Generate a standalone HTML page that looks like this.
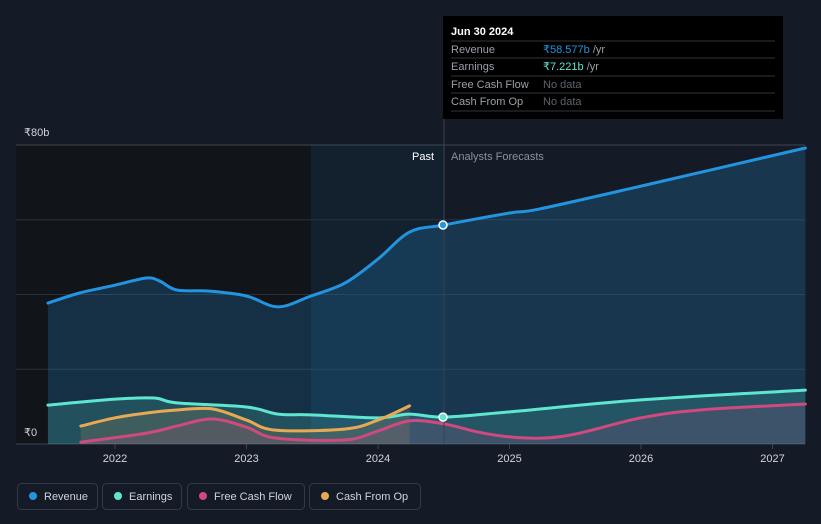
<!DOCTYPE html>
<html><head><meta charset="utf-8"><style>
body{margin:0;background:#151b26;font-family:"Liberation Sans",sans-serif;}
svg{display:block}
</style></head><body>
<svg id="c" width="821" height="524">
<rect x="0" y="0" width="821" height="524" fill="#151b26"/>
<rect x="16" y="145" width="428" height="299" fill="#111419"/>
<rect x="311" y="145" width="133" height="299" fill="#13202e"/>
<g id="grid"></g>
<g id="areas"></g>
<g id="lines"></g>
<line x1="444" y1="16" x2="444" y2="444" stroke="#3a4350" stroke-width="1"/>
<text x="434" y="160" fill="#fff" font-size="11" text-anchor="end">Past</text>
<text x="451" y="160" fill="#8a919c" font-size="11">Analysts Forecasts</text>
<text x="24" y="136" fill="#d0d4da" font-size="11">₹80b</text>
<text x="24" y="436" fill="#d0d4da" font-size="11">₹0</text>
<g id="xt"></g>
<g id="dots"></g>
<g>
<rect x="443" y="16" width="340" height="103" fill="#000"/>
<text x="451" y="35" fill="#fff" font-size="11" font-weight="bold">Jun 30 2024</text>
<line x1="451" y1="41" x2="775" y2="41" stroke="#333"/>
<text x="451" y="53" fill="#9aa0a8" font-size="11">Revenue</text>
<text x="543" y="53" font-size="11"><tspan fill="#2394df">₹58.577b</tspan><tspan fill="#9aa0a8"> /yr</tspan></text>
<line x1="451" y1="58" x2="775" y2="58" stroke="#333"/>
<text x="451" y="70" fill="#9aa0a8" font-size="11">Earnings</text>
<text x="543" y="70" font-size="11"><tspan fill="#5ee6d0">₹7.221b</tspan><tspan fill="#9aa0a8"> /yr</tspan></text>
<line x1="451" y1="76" x2="775" y2="76" stroke="#333"/>
<text x="451" y="88" fill="#9aa0a8" font-size="11">Free Cash Flow</text>
<text x="543" y="88" fill="#5d636b" font-size="11">No data</text>
<line x1="451" y1="93" x2="775" y2="93" stroke="#333"/>
<text x="451" y="105" fill="#9aa0a8" font-size="11">Cash From Op</text>
<text x="543" y="105" fill="#5d636b" font-size="11">No data</text>
<line x1="451" y1="111" x2="775" y2="111" stroke="#333"/>
</g>
<g id="legend"></g>
</svg>
<script>
const yTicks=[0,20,40,60,80];
const xTickLabels=["2022","2023","2024","2025","2026","2027"];
const xTickYears=[2022,2023,2024,2025,2026,2027];
const revT=[2021.49,2021.73,2022.0,2022.24,2022.34,2022.47,2022.72,2023.0,2023.24,2023.49,2023.75,2024.0,2024.24,2024.5,2025.0,2025.23,2026.0,2027.25];
const revV=[37.7,40.4,42.5,44.4,43.6,41.2,40.9,39.6,36.7,39.6,43.1,49.5,56.7,58.6,61.8,62.9,69,79.2];
const earnT=[2021.49,2022.0,2022.3,2022.47,2023.0,2023.24,2023.49,2024.0,2024.24,2024.5,2025.0,2026.0,2027.25];
const earnV=[10.4,12.0,12.3,11.0,9.9,8.0,7.8,7.0,8.0,7.2,8.6,11.8,14.4];
const cfoT=[2021.74,2022.0,2022.24,2022.47,2022.74,2023.0,2023.22,2023.75,2024.0,2024.24];
const cfoV=[4.8,7.0,8.3,9.1,9.4,6.4,3.7,4.0,6.4,10.2];
const fcfT=[2021.74,2022.24,2022.47,2022.74,2023.0,2023.22,2023.75,2024.0,2024.24,2024.5,2024.76,2025.0,2025.27,2025.53,2026.0,2026.45,2027.25];
const fcfV=[0.5,2.9,4.8,6.7,4.5,1.6,1.1,3.5,6.2,5.4,3.2,1.9,1.6,2.9,7.0,9.1,10.7];
const X=t=>115+(t-2022)*131.5;
const Y=v=>444-v*299/80;
const NS="http://www.w3.org/2000/svg";
function mk(tag,attrs,parent){const e=document.createElementNS(NS,tag);for(const k in attrs)e.setAttribute(k,attrs[k]);parent.appendChild(e);return e;}
const grid=document.getElementById('grid');
yTicks.forEach(v=>{const l=mk('line',{x1:16,x2:805,y1:Y(v),y2:Y(v),stroke:v===0||v===80?'#3d4552':'#2a313c'},grid);

});
const xt=document.getElementById('xt');
xTickYears.forEach((t,i)=>{const l=mk('line',{x1:X(t),x2:X(t),y1:444,y2:449,stroke:'#3d4552'},xt);


const tx=mk('text',{x:X(t),y:462,fill:'#d0d4da','font-size':11,'text-anchor':'middle'},xt);tx.textContent=xTickLabels[i];

});
function path(ts,vs){const p=ts.map((t,i)=>[X(t),Y(vs[i])]);let d=`M${p[0][0]},${p[0][1]}`;
for(let i=0;i<p.length-1;i++){const p0=p[i-1]||p[i],p1=p[i],p2=p[i+1],p3=p[i+2]||p2;
const c1=[p1[0]+(p2[0]-p0[0])/6,p1[1]+(p2[1]-p0[1])/6],c2=[p2[0]-(p3[0]-p1[0])/6,p2[1]-(p3[1]-p1[1])/6];
d+=` C${c1[0]},${c1[1]} ${c2[0]},${c2[1]} ${p2[0]},${p2[1]}`;}return [d,p];}
const series=[[revT,revV,'#2394df','rgba(35,148,223,0.22)','revenue'],[earnT,earnV,'#5ee6d0','rgba(94,230,208,0.18)','earnings'],[cfoT,cfoV,'#e8a954','rgba(232,169,84,0.15)','cash-from-op'],[fcfT,fcfV,'#d0497f','rgba(208,73,127,0.15)','free-cash-flow']];
const A=document.getElementById('areas'),L=document.getElementById('lines');
series.forEach(s=>{const [d,p]=path(s[0],s[1]);
const a=mk('path',{d:d+` L${p[p.length-1][0]},444 L${p[0][0]},444 Z`,fill:s[3]},A);


const l=mk('path',{d:d,fill:'none',stroke:s[2],'stroke-width':3,'stroke-linecap':'round'},L);

});
const D=document.getElementById('dots');
[[revV[13],'#2394df'],[earnV[9],'#5ee6d0']].forEach((v,i)=>{const c=mk('circle',{cx:443,cy:Y(v[0]),r:4,fill:v[1],stroke:'#fff','stroke-width':1.5},D);

});
const lg=document.getElementById('legend');
const items=[['Revenue','#2394df',17,80],['Earnings','#5ee6d0',102,79],['Free Cash Flow','#d0497f',187,117],['Cash From Op','#e8a954',309,111]];
items.forEach(it=>{const g=mk('g',{},lg);


mk('rect',{x:it[2]+0.5,y:483.5,width:it[3],height:26,rx:4,fill:'none',stroke:'#333b47'},g);
mk('circle',{cx:it[2]+16,cy:496,r:4,fill:it[1]},g);
const t=mk('text',{x:it[2]+27,y:500,fill:'#d0d4da','font-size':11},g);t.textContent=it[0];});
</script>
</body></html>
